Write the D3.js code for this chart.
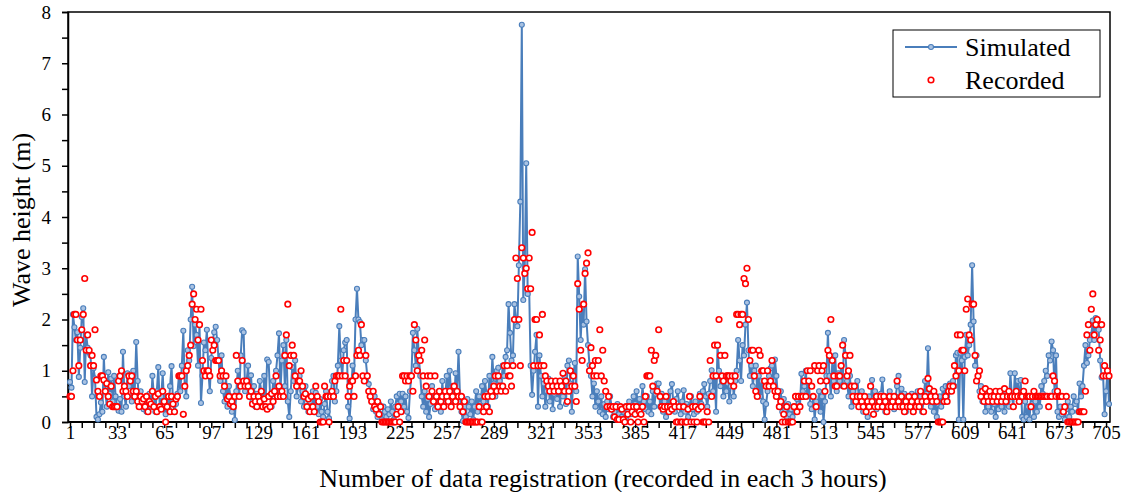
<!DOCTYPE html>
<html><head><meta charset="utf-8">
<script src="https://cdn.jsdelivr.net/npm/d3@7"></script>
<style>
html,body{margin:0;padding:0;background:#fff;}
svg{display:block;font-family:"Liberation Serif","Times New Roman",serif;}
</style></head>
<body><svg id="c" width="1133" height="492"></svg>
<script>
const simulated = [
0.78,0.67,2.1,1.85,1.6,1.75,0.88,1.45,
2.05,2.22,0.78,1.7,1.45,1.35,1.3,0.5,
1.05,0.85,0.1,0.05,0.15,0.38,0.2,1.27,
0.6,0.3,0.97,0.55,0.85,0.4,0.9,0.5,
0.3,0.22,0.45,0.2,1.37,0.5,0.3,0.95,
0.7,0.9,0.4,1.0,0.6,1.56,0.8,0.35,
0.6,0.3,0.25,0.45,0.2,0.35,0.55,0.3,
0.9,0.5,0.2,0.6,1.07,0.3,0.5,0.95,
0.3,0.15,0.5,0.25,0.7,1.09,0.4,0.2,
0.35,0.55,0.9,0.6,1.1,1.78,0.7,0.5,
1.4,1.2,2.0,2.64,1.48,1.9,1.7,1.1,
1.9,0.37,0.9,1.55,1.4,1.8,1.0,0.6,
1.25,1.6,1.75,1.86,1.6,1.2,0.8,1.3,
0.6,0.4,0.9,0.3,0.7,0.5,0.2,0.45,
0.04,0.6,1.0,0.5,1.3,1.79,1.75,0.6,
0.8,1.1,0.5,0.91,0.4,0.7,0.3,0.55,
0.4,0.8,0.6,0.3,0.9,0.5,1.22,1.17,
0.5,0.3,0.8,0.6,1.0,1.3,1.73,0.6,
1.2,1.5,0.7,1.6,0.4,0.1,0.6,1.07,
0.8,1.2,0.5,0.7,0.9,0.4,0.6,0.3,
0.7,0.5,0.2,0.4,0.3,0.6,0.25,0.57,
0.3,0.15,0.45,0.2,0.1,0.35,0.6,0.2,
0.07,0.5,0.8,0.9,0.4,0.6,1.1,1.87,
1.2,0.9,1.4,1.55,1.6,0.3,0.07,0.5,
1.1,0.9,2.0,2.6,2.0,1.95,1.5,1.6,
1.6,1.2,0.9,0.74,0.6,0.4,0.25,0.5,
0.2,0.1,0.35,0.15,0.05,0.3,0.2,0.1,
0.25,0.15,0.4,0.2,0.05,0.3,0.5,0.35,
0.55,0.4,0.55,0.3,0.5,0.2,0.08,0.6,
0.9,1.74,1.4,1.1,1.82,1.3,0.9,0.5,
0.3,0.6,0.2,0.45,0.1,0.35,0.7,0.4,
0.25,0.5,0.3,0.6,0.2,0.8,0.35,0.5,
0.9,0.6,1.0,0.55,0.7,0.4,0.95,0.6,
1.37,0.5,0.2,0.02,0.3,0.1,0.45,0.3,
0.15,0.4,0.05,0.3,0.6,0.2,0.5,0.35,
0.7,0.4,0.8,0.55,0.3,0.9,0.6,1.27,
0.75,0.5,1.0,1.06,0.8,0.7,1.1,0.9,
1.27,1.4,2.3,1.74,1.2,1.3,2.3,2.0,
1.87,3.06,4.3,7.75,2.38,3.0,5.05,2.5,
2.6,1.1,0.53,1.0,1.37,1.7,0.3,1.3,
0.9,0.5,0.75,0.3,0.6,0.85,0.4,0.7,
0.25,0.55,0.8,0.45,0.6,0.3,0.7,0.5,
0.9,0.35,1.1,1.2,0.75,0.2,0.9,1.15,
0.6,3.23,2.45,1.6,2.25,1.9,2.98,1.96,
1.5,1.11,0.9,0.5,0.75,0.3,0.6,0.4,
0.2,0.5,0.15,0.35,0.1,0.4,0.25,0.5,
0.3,0.1,0.2,0.05,0.35,0.15,0.25,0.1,
0.2,0.3,0.1,0.25,0.4,0.15,0.3,0.5,
0.35,0.6,0.2,0.45,0.3,0.7,0.4,0.25,
0.5,0.2,0.4,0.15,0.6,0.3,0.55,0.75,
0.75,0.3,0.55,0.2,0.4,0.1,0.5,0.3,
0.6,0.74,0.35,0.2,0.45,0.6,0.3,0.15,
0.4,0.62,0.2,0.35,0.1,0.3,0.5,0.25,
0.15,0.4,0.2,0.3,0.55,0.35,0.6,0.74,
0.5,0.3,0.55,0.8,1.01,0.6,0.9,0.2,
1.5,1.0,0.7,0.9,0.5,0.8,0.6,0.75,
0.4,0.7,0.9,0.5,0.8,1.0,1.6,1.2,
0.8,1.5,1.3,1.9,2.33,1.4,0.9,1.1,
0.7,1.0,1.1,0.6,0.9,0.5,0.8,0.4,
0.05,0.35,0.6,0.9,1.05,1.1,0.8,1.22,
0.9,0.5,0.3,0.6,0.2,0.45,0.25,0.1,
0.35,0.15,0.25,0.1,0.3,0.2,0.45,0.5,
0.3,0.94,0.6,0.7,1.0,0.5,0.8,0.35,
0.25,0.5,0.05,0.4,0.3,0.6,0.2,0.5,
0.0,0.4,0.9,1.74,0.9,0.5,1.2,0.8,
1.3,0.6,0.95,0.8,1.1,0.7,1.6,1.3,
0.8,0.5,0.9,0.3,0.6,0.4,0.7,0.8,
0.5,0.3,0.6,0.2,0.45,0.35,0.1,0.5,
0.3,0.82,0.4,0.6,0.25,0.5,0.3,0.55,
0.83,0.4,0.2,0.5,0.35,0.6,0.3,0.45,
0.25,0.5,0.7,0.9,0.4,0.65,0.3,0.55,
0.2,0.5,0.4,0.3,0.55,0.2,0.45,0.35,
0.6,0.3,0.5,0.2,0.4,0.8,0.55,1.44,
0.5,0.3,0.6,0.2,0.4,0.1,0.35,0.5,
0.3,0.65,0.4,0.7,0.5,0.7,0.75,0.6,
0.8,0.7,1.3,1.35,0.05,1.35,1.2,0.05,
1.27,1.7,1.3,1.5,1.9,3.06,1.96,1.1,
1.3,0.9,0.6,0.7,0.4,0.55,0.2,0.5,
0.3,0.45,0.2,0.5,0.35,0.1,0.4,0.25,
0.5,0.3,0.45,0.2,0.6,0.4,0.3,0.95,
0.5,0.3,0.95,0.6,0.8,0.4,0.82,0.1,
0.05,0.4,0.1,0.3,0.05,0.5,0.35,0.1,
0.4,0.2,0.5,0.3,0.7,0.55,0.8,1.0,
0.9,1.3,1.2,1.57,1.4,0.6,1.3,0.2,
0.1,0.3,0.15,0.2,0.05,0.25,0.4,0.1,
0.3,0.2,0.5,0.35,0.4,0.2,0.75,0.5,
0.7,1.1,1.5,1.15,1.3,1.6,1.7,1.98,
1.6,2.03,1.9,1.8,1.2,0.87,0.9,0.15,
0.6,1.0,0.35
];
const recorded = [
0.5,0.5,1.0,2.1,2.1,1.6,1.1,1.6,
1.8,2.1,2.8,1.4,1.7,1.4,1.1,1.3,
1.1,1.8,0.82,0.6,0.5,0.9,0.9,0.82,
0.6,0.75,0.5,0.35,0.7,0.3,0.3,0.3,
0.3,0.8,0.9,1.0,0.6,0.7,0.6,0.5,
0.9,0.8,0.9,0.6,0.5,0.6,0.4,0.3,
0.5,0.4,0.45,0.3,0.5,0.2,0.4,0.35,
0.6,0.3,0.5,0.2,0.55,0.3,0.25,0.6,
0.4,0.0,0.3,0.5,0.2,0.5,0.35,0.2,
0.45,0.5,0.9,0.9,0.9,0.15,0.7,1.0,
1.1,1.3,1.5,2.3,2.5,2.0,2.2,1.6,
1.9,2.2,1.2,1.0,0.9,1.0,1.0,0.9,
1.6,1.4,1.5,1.2,1.2,1.2,0.9,1.0,
0.9,0.7,0.9,0.45,0.5,0.35,0.4,0.3,
0.5,1.3,0.8,0.5,0.7,1.2,0.8,0.7,
0.8,0.7,0.5,0.6,0.35,0.5,0.4,0.3,
0.5,0.4,0.6,0.3,0.45,0.3,0.25,0.5,
0.3,0.55,0.4,0.6,0.9,0.5,0.7,0.5,
0.6,0.5,1.3,1.7,2.3,1.1,1.3,1.5,
1.3,0.9,0.7,0.8,0.8,1.0,0.7,0.5,
0.55,0.3,0.45,0.2,0.5,0.3,0.2,0.7,
0.5,0.4,0.0,0.0,0.0,0.7,0.5,0.5,
0.0,0.5,0.6,0.5,0.8,0.9,0.9,0.9,
2.2,0.9,1.2,0.9,1.2,0.5,0.7,0.8,
0.8,0.5,0.9,1.3,1.4,1.3,1.9,0.9,
0.8,1.3,0.9,0.6,0.5,0.4,0.6,0.3,
0.25,0.4,0.15,0.3,0.0,0.0,0.0,0.0,
0.0,0.0,0.0,0.0,0.0,0.0,0.15,0.3,
0.0,0.2,0.9,0.9,0.8,0.9,0.8,0.9,
0.9,0.6,1.9,1.6,1.0,1.3,1.2,1.4,
0.9,1.6,0.7,0.9,0.5,0.9,0.6,0.4,
0.9,0.5,0.3,0.6,0.4,0.5,0.3,0.6,
0.5,0.4,0.6,0.3,0.5,0.7,0.4,0.6,
0.5,0.3,0.5,0.2,0.4,0.0,0.0,0.0,
0.0,0.0,0.0,0.0,0.0,0.0,0.3,0.0,
0.0,0.2,0.5,0.3,0.5,0.2,0.6,0.5,
0.7,0.9,0.6,0.9,0.7,0.6,0.7,1.1,
0.6,1.1,0.9,0.9,0.7,1.1,2.0,3.2,
2.8,2.0,1.1,3.4,3.2,2.9,3.0,2.6,
3.2,2.6,3.7,1.1,2.0,2.0,1.1,1.7,
1.1,2.1,1.1,0.9,0.8,0.7,0.6,0.8,
0.7,0.6,0.8,0.7,0.6,0.8,0.7,0.95,
0.6,0.8,0.4,0.6,1.0,0.7,0.9,0.7,
0.4,2.7,2.2,1.4,1.2,2.3,2.9,3.1,
3.3,1.0,1.45,1.1,0.9,1.2,0.9,1.2,
1.8,0.9,1.4,0.8,0.6,0.3,0.5,0.3,
0.25,0.3,0.1,0.3,0.05,0.05,0.3,0.25,
0.05,0.0,0.3,0.15,0.3,0.0,0.2,0.3,
0.15,0.3,0.0,0.2,0.15,0.3,0.0,0.5,
0.9,0.9,0.9,1.4,0.7,1.2,1.3,0.6,
1.8,0.5,0.3,0.25,0.3,0.5,0.3,0.2,
0.3,0.25,0.4,0.3,0.0,0.0,0.3,0.0,
0.0,0.3,0.0,0.0,0.25,0.5,0.0,0.3,
0.0,0.3,0.0,0.25,0.5,0.3,0.0,0.0,
0.0,0.2,0.0,1.2,0.5,0.9,1.5,0.9,
1.5,2.0,1.3,0.9,0.8,1.3,0.9,0.9,
0.9,0.8,0.9,0.7,0.9,2.1,2.1,1.9,
2.1,2.1,2.8,2.7,3.0,2.0,1.2,1.4,
1.4,0.9,0.6,0.5,1.4,1.3,1.0,1.0,
0.8,0.7,1.0,0.7,0.8,1.2,0.7,0.6,
0.5,0.6,0.3,0.4,0.0,0.15,0.0,0.3,
0.0,0.0,0.0,0.0,0.3,0.5,0.2,0.5,
0.3,0.5,0.5,0.8,0.5,1.0,0.8,1.0,
0.7,0.5,1.1,0.3,1.0,1.1,0.8,1.0,
1.1,0.6,0.8,1.4,1.3,2.0,1.2,0.9,
0.7,0.7,0.9,0.9,1.1,1.5,0.7,1.3,
0.9,1.0,1.3,0.7,0.5,0.7,0.4,0.5,
0.3,0.5,0.4,0.3,0.5,0.2,0.4,0.3,
0.7,0.4,0.15,0.3,0.5,0.3,0.4,0.5,
0.3,0.5,0.4,0.2,0.3,0.5,0.3,0.4,
0.5,0.3,0.8,0.4,0.3,0.5,0.3,0.2,
0.4,0.3,0.5,0.3,0.4,0.2,0.5,0.3,
0.4,0.3,0.6,0.4,0.2,0.5,0.4,0.85,
0.65,0.5,0.4,0.6,0.5,0.4,0.0,0.0,
0.0,0.0,0.4,0.5,0.4,0.6,0.7,0.6,
0.7,1.1,0.9,1.7,1.0,1.7,1.4,1.4,
1.0,2.2,2.4,1.7,1.6,2.3,2.3,1.3,
0.8,0.9,1.0,0.5,0.6,0.4,0.65,0.5,
0.4,0.6,0.5,0.4,0.5,0.6,0.4,0.5,
0.6,0.4,0.5,0.65,0.4,0.5,0.6,0.5,
0.5,0.3,0.5,0.6,0.5,0.4,0.5,0.5,
0.6,0.8,0.5,0.5,0.5,0.3,0.5,0.6,
0.5,0.5,0.5,0.5,0.5,0.5,0.5,0.5,
0.5,0.3,0.5,0.5,0.9,0.8,0.5,0.6,
0.5,0.5,0.5,0.2,0.3,0.5,0.0,0.0,
0.0,0.0,0.0,0.0,0.0,0.0,0.2,0.2,
0.2,0.2,0.6,1.7,1.9,1.4,2.2,2.5,
1.7,1.9,2.0,1.4,1.6,1.9,0.9,1.1,
0.9,1.0,0.9
];
const xTickLabels = [1,33,65,97,129,161,193,225,257,289,321,353,385,417,449,481,513,545,577,609,641,673,705];
const yTickLabels = [0,1,2,3,4,5,6,7,8];
const seriesNames = ["Simulated","Recorded"];
const xTitle = "Number of data registration (recorded in each 3 hours)";
const yTitle = "Wave height (m)";

const svg = d3.select("#c");
const L = 68, R = 1110, T = 12, B = 422;
const N = simulated.length;
const x = d3.scaleLinear().domain([1, N]).range([70, 1109]);
const y = d3.scaleLinear().domain([0, 8]).range([B, T]);

// frame
svg.append("rect").attr("x", L).attr("y", T).attr("width", R - L).attr("height", B - T)
  .attr("fill", "none").attr("stroke", "#000").attr("stroke-width", 1.5);

// y axis
const yMinor = d3.range(0, 8.01, 0.5);
svg.append("g").attr("transform", `translate(${L},0)`)
  .call(d3.axisLeft(y).tickValues(yMinor).tickSize(6)
    .tickFormat(d => yTickLabels.includes(d) ? d : ""))
  .call(g => { g.select(".domain").attr("stroke-width", 1.5);
    g.selectAll("line").attr("stroke-width", 1.5);
    g.selectAll("text").attr("font-size", 19).attr("font-family", "Liberation Serif").attr("x", -17); });

// x axis
const xMinor = d3.range(1, N + 1, 8);
svg.append("g").attr("transform", `translate(0,${B})`)
  .call(d3.axisBottom(x).tickValues(xMinor).tickSize(6)
    .tickFormat(d => xTickLabels.includes(d) ? d : ""))
  .call(g => { g.select(".domain").remove();
    g.selectAll("line").attr("stroke-width", 1.5);
    g.selectAll("text").attr("font-size", 19).attr("font-family", "Liberation Serif").attr("y", 3); });
svg.append("line").attr("x1", L).attr("x2", R).attr("y1", B).attr("y2", B)
  .attr("stroke", "#000").attr("stroke-width", 2);

// simulated line
const blue = "#4A7EBB";
svg.append("path").datum(simulated)
  .attr("fill", "none").attr("stroke", blue).attr("stroke-width", 2)
  .attr("d", d3.line().x((d, i) => x(i + 1)).y(d => y(d)));
svg.append("g").selectAll("circle").data(simulated).join("circle")
  .attr("cx", (d, i) => x(i + 1)).attr("cy", d => y(d)).attr("r", 2.5)
  .attr("fill", "#A9C2E2").attr("stroke", blue).attr("stroke-width", 1.1);

// recorded points
svg.append("g").selectAll("circle").data(recorded).join("circle")
  .attr("cx", (d, i) => x(i + 1)).attr("cy", d => y(d)).attr("r", 2.8)
  .attr("fill", "#fff").attr("stroke", "#FF0000").attr("stroke-width", 1.6);

// titles
svg.append("text").attr("x", 603).attr("y", 487).attr("text-anchor", "middle")
  .attr("font-size", 26).text(xTitle);
svg.append("text").attr("transform", "translate(30,220) rotate(-90)").attr("text-anchor", "middle")
  .attr("font-size", 26).text(yTitle);

// legend
const lg = svg.append("g");
lg.append("rect").attr("x", 893).attr("y", 30).attr("width", 207).attr("height", 67)
  .attr("fill", "#fff").attr("stroke", "#000").attr("stroke-width", 1);
lg.append("line").attr("x1", 905).attr("x2", 957).attr("y1", 47).attr("y2", 47)
  .attr("stroke", blue).attr("stroke-width", 2);
lg.append("circle").attr("cx", 931).attr("cy", 47).attr("r", 2.5)
  .attr("fill", "#A9C2E2").attr("stroke", blue).attr("stroke-width", 1.1);
lg.append("circle").attr("cx", 931).attr("cy", 80).attr("r", 2.8)
  .attr("fill", "#fff").attr("stroke", "#FF0000").attr("stroke-width", 1.6);
lg.append("text").attr("x", 965).attr("y", 56).attr("font-size", 26).text(seriesNames[0]);
lg.append("text").attr("x", 965).attr("y", 89).attr("font-size", 26).text(seriesNames[1]);
</script></body></html>
